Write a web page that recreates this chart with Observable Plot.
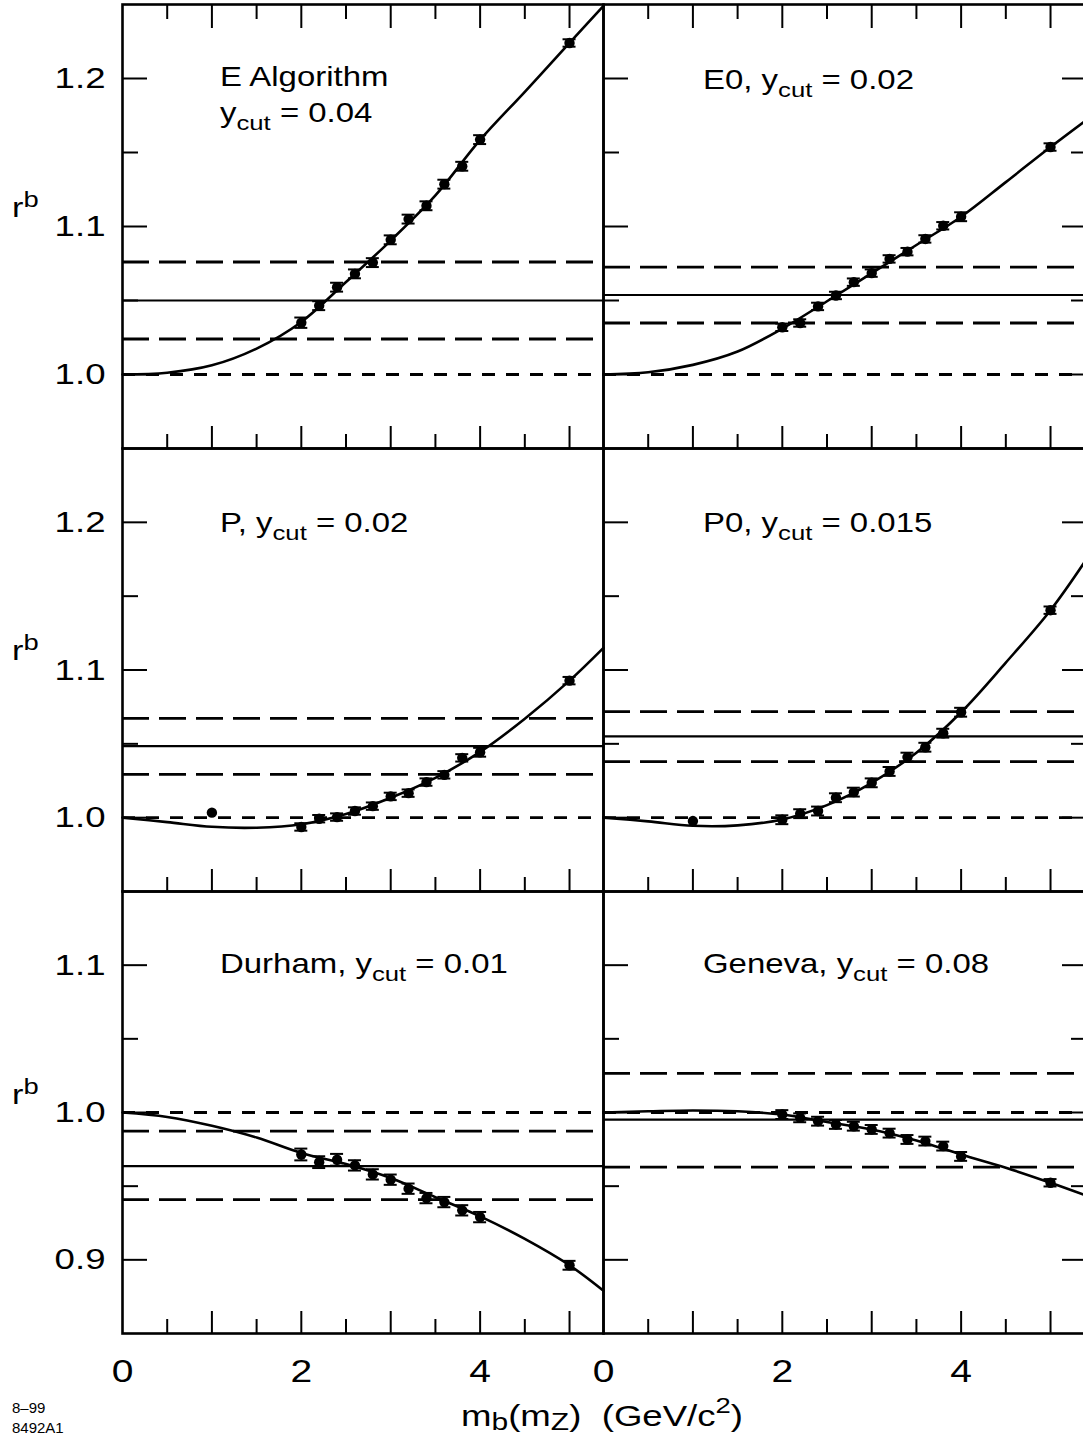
<!DOCTYPE html>
<html>
<head>
<meta charset="utf-8">
<script src="https://cdn.jsdelivr.net/npm/d3@7"></script>
<script src="https://cdn.jsdelivr.net/npm/@observablehq/plot@0.6"></script>
<style>
html, body { margin: 0; padding: 0; background: #fff; }
#chart { position: relative; width: 1083px; height: 1439px; overflow: hidden; background: #fff;
  font-family: "Liberation Sans", Arial, Helvetica, sans-serif; }
#chart svg { position: absolute; }
</style>
</head>
<body>
<div id="chart"></div>
<script>
// ---------------- data ----------------
const panelNames = ["E Algorithm", "E0", "P", "P0", "Durham", "Geneva"];
const yCuts = ["0.04", "0.02", "0.02", "0.015", "0.01", "0.08"];

const massX = [2.0, 2.2, 2.4, 2.6, 2.8, 3.0, 3.2, 3.4, 3.6, 3.8, 4.0, 5.0];
const massXWithLow = [1.0, 2.0, 2.2, 2.4, 2.6, 2.8, 3.0, 3.2, 3.4, 3.6, 3.8, 4.0, 5.0];

const eAlgR   = [1.035, 1.0465, 1.059, 1.068, 1.0756, 1.091, 1.105, 1.114, 1.1286, 1.1407, 1.1587, 1.224];
const eAlgErr = [0.0035, 0.003, 0.003, 0.003, 0.003, 0.003, 0.003, 0.003, 0.003, 0.003, 0.003, 0.0025];
const e0R     = [1.0319, 1.0348, 1.046, 1.0534, 1.0624, 1.0685, 1.0781, 1.083, 1.0916, 1.1005, 1.1066, 1.1537];
const e0Err   = [0.0025, 0.0025, 0.0025, 0.0025, 0.0025, 0.0025, 0.0025, 0.0025, 0.0025, 0.0025, 0.003, 0.0025];
const pR      = [1.0034, 0.9937, 0.9993, 1.0004, 1.0045, 1.0078, 1.0144, 1.0166, 1.0241, 1.029, 1.0405, 1.0443, 1.0928];
const pErr    = [0, 0.0025, 0.0025, 0.0025, 0.0025, 0.0025, 0.0025, 0.0025, 0.0025, 0.0025, 0.0025, 0.003, 0.0025];
const p0R     = [0.9977, 0.9986, 1.0027, 1.0045, 1.0135, 1.0173, 1.0236, 1.0313, 1.041, 1.0477, 1.0572, 1.0714, 1.1405];
const p0Err   = [0, 0.003, 0.003, 0.003, 0.003, 0.003, 0.003, 0.003, 0.003, 0.003, 0.003, 0.003, 0.0025];
const durhamR   = [0.9715, 0.9663, 0.9679, 0.9641, 0.958, 0.9544, 0.9483, 0.9419, 0.9392, 0.9336, 0.929, 0.8963];
const durhamErr = [0.004, 0.004, 0.004, 0.0035, 0.0035, 0.0035, 0.0035, 0.0035, 0.0035, 0.0035, 0.0035, 0.003];
const genevaR   = [0.9986, 0.9964, 0.9941, 0.9919, 0.9907, 0.9885, 0.986, 0.9817, 0.9806, 0.9772, 0.9702, 0.9523];
const genevaErr = [0.003, 0.003, 0.003, 0.003, 0.003, 0.003, 0.003, 0.003, 0.003, 0.003, 0.003, 0.0025];

// fitted curves (read at these masses)
const curveX      = [0, 0.5, 1.0, 1.5, 2.0, 2.5, 3.0, 3.5, 4.0, 4.5, 5.0, 5.38];
const eAlgCurve   = [1.0, 1.0012, 1.0062, 1.0175, 1.0355, 1.0625, 1.0905, 1.121, 1.1585, 1.191, 1.224, 1.249];
const e0Curve     = [1.0, 1.0015, 1.0065, 1.0155, 1.031, 1.0495, 1.0685, 1.0875, 1.1066, 1.130, 1.1537, 1.171];
const pCurve      = [1.0, 0.997, 0.9938, 0.9932, 0.9955, 1.0025, 1.0135, 1.027, 1.0445, 1.067, 1.0928, 1.115];
const p0Curve     = [1.0, 0.9975, 0.9945, 0.9948, 0.9988, 1.0085, 1.0236, 1.044, 1.0714, 1.105, 1.1405, 1.173];
const durhamCurve = [1.0, 0.997, 0.991, 0.983, 0.9725, 0.965, 0.9555, 0.9425, 0.9295, 0.9142, 0.8963, 0.879];
const genevaCurve = [1.0, 1.0008, 1.0014, 1.0008, 0.9986, 0.9935, 0.9885, 0.981, 0.9715, 0.9625, 0.9523, 0.944];

// horizontal lines: [central value, upper band, lower band]
const eAlgLines   = [1.050, 1.076, 1.024];
const e0Lines     = [1.0537, 1.0725, 1.0348];
const pLines      = [1.0484, 1.0673, 1.0293];
const p0Lines     = [1.0551, 1.0718, 1.038];
const durhamLines = [0.9636, 0.9873, 0.9408];
const genevaLines = [0.9951, 1.0266, 0.9629];
const unityLine   = [1.0];

// ticks and tick labels
const xDomain = [0, 5.38];
const xMajorTicks = [1, 2, 3, 4, 5];
const xMinorTicks = [0.5, 1.5, 2.5, 3.5, 4.5];
const xTickLabels = [0, 2, 4];
const rowDomains = [[0.95, 1.25], [0.95, 1.25], [0.85, 1.15]];
const rowMajorTicks = [[1.0, 1.1, 1.2], [1.0, 1.1, 1.2], [0.9, 1.0, 1.1]];
const rowMinorTicks = [[1.05, 1.15], [1.05, 1.15], [0.95, 1.05]];
const rowTickLabels = [[1.0, 1.1, 1.2], [1.0, 1.1, 1.2], [0.9, 1.0, 1.1]];

// ---------------- layout ----------------
const FONT = '"Liberation Sans", Arial, Helvetica, sans-serif';
const STRETCH = 1.22;
const FRAME_W = 481;
const rowTop = [4, 448, 891];
const rowH = [444, 443, 442];
const colLeft = [122, 603];

const panels = [
  {row: 0, col: 0, x: massX, r: eAlgR, err: eAlgErr, curve: eAlgCurve, lines: eAlgLines},
  {row: 0, col: 1, x: massX, r: e0R, err: e0Err, curve: e0Curve, lines: e0Lines},
  {row: 1, col: 0, x: massXWithLow, r: pR, err: pErr, curve: pCurve, lines: pLines},
  {row: 1, col: 1, x: massXWithLow, r: p0R, err: p0Err, curve: p0Curve, lines: p0Lines},
  {row: 2, col: 0, x: massX, r: durhamR, err: durhamErr, curve: durhamCurve, lines: durhamLines},
  {row: 2, col: 1, x: massX, r: genevaR, err: genevaErr, curve: genevaCurve, lines: genevaLines},
];

const chart = document.getElementById("chart");
const hasAxisMarks = typeof Plot.axisY === "function";

function stretchTexts(svg, k) {
  svg.querySelectorAll("text").forEach(t => {
    const x = t.getAttribute("x");
    if (x != null && x !== "") t.setAttribute("x", (+x) / k);
    const tr = t.getAttribute("transform") || "";
    t.setAttribute("transform", (tr + ` scale(${k},1)`).trim());
  });
}

function drawPanel(p) {
  const isLeft = p.col === 0, isBottom = p.row === 2, isTop = p.row === 0, isRight = p.col === 1;
  const ml = isLeft ? 122 : 4, mr = 4, mt = 4, mb = isBottom ? 62 : 4;
  const H = rowH[p.row];
  const pxPerUnit = FRAME_W / (xDomain[1] - xDomain[0]);
  const capHalf = 6.5 / pxPerUnit;
  const pts = p.x.map((x, i) => ({x, r: p.r[i], e: p.err[i]}));
  const bars = pts.filter(d => d.e > 0);
  const crv = curveX.map((x, i) => ({x, r: p.curve[i]}));

  const marks = [
    Plot.ruleY(unityLine, {stroke: "black", strokeWidth: 2.8, strokeDasharray: "13,11"}),
    Plot.ruleY([p.lines[1], p.lines[2]], {stroke: "black", strokeWidth: 2.8, strokeDasharray: "27,10"}),
    Plot.ruleY([p.lines[0]], {stroke: "black", strokeWidth: 2.2}),
    Plot.line(crv, {x: "x", y: "r", curve: "catmull-rom", stroke: "black", strokeWidth: 2.6}),
    Plot.ruleX(bars, {x: "x", y1: d => d.r - d.e, y2: d => d.r + d.e, stroke: "black", strokeWidth: 2}),
    Plot.ruleY(bars, {y: d => d.r + d.e, x1: d => d.x - capHalf, x2: d => d.x + capHalf, stroke: "black", strokeWidth: 2}),
    Plot.ruleY(bars, {y: d => d.r - d.e, x1: d => d.x - capHalf, x2: d => d.x + capHalf, stroke: "black", strokeWidth: 2}),
    Plot.dot(pts, {x: "x", y: "r", r: 5.2, fill: "black"}),
    // inward ticks, left side
    Plot.tickY(rowMajorTicks[p.row], {y: d => d, insetRight: FRAME_W - 25, stroke: "black", strokeWidth: 2}),
    Plot.tickY(rowMinorTicks[p.row], {y: d => d, insetRight: FRAME_W - 16, stroke: "black", strokeWidth: 2}),
    // bottom ticks
    Plot.tickX(xMajorTicks, {x: d => d, insetTop: H - 22, stroke: "black", strokeWidth: 2}),
    Plot.tickX(xMinorTicks, {x: d => d, insetTop: H - 14, stroke: "black", strokeWidth: 2}),
    Plot.frame({stroke: "black", strokeWidth: 2.6}),
  ];
  if (isTop) {
    marks.push(Plot.tickX(xMajorTicks, {x: d => d, insetBottom: H - 24, stroke: "black", strokeWidth: 2}));
    marks.push(Plot.tickX(xMinorTicks, {x: d => d, insetBottom: H - 15, stroke: "black", strokeWidth: 2}));
  }
  if (isRight) {
    marks.push(Plot.tickY(rowMajorTicks[p.row], {y: d => d, insetLeft: FRAME_W - 22, stroke: "black", strokeWidth: 2}));
    marks.push(Plot.tickY(rowMinorTicks[p.row], {y: d => d, insetLeft: FRAME_W - 13, stroke: "black", strokeWidth: 2}));
  }
  if (isLeft) {
    if (hasAxisMarks) {
      marks.push(Plot.axisY(rowTickLabels[p.row], {anchor: "left", tickSize: 0, tickPadding: 17,
        tickFormat: d3.format(".1f"), fontSize: 30, label: null}));
    } else {
      marks.push(Plot.text(rowTickLabels[p.row], {y: d => d, text: d3.format(".1f"), frameAnchor: "left",
        dx: -17, textAnchor: "end", fontSize: 30}));
    }
  }
  if (isBottom) {
    if (hasAxisMarks) {
      marks.push(Plot.axisX(xTickLabels, {anchor: "bottom", tickSize: 0, tickPadding: 26,
        tickFormat: d3.format("d"), fontSize: 32, label: null}));
    } else {
      marks.push(Plot.text(xTickLabels, {x: d => d, text: d3.format("d"), frameAnchor: "bottom",
        dy: 26, lineAnchor: "top", fontSize: 32}));
    }
  }

  const svg = Plot.plot({
    width: ml + FRAME_W + mr,
    height: mt + H + mb,
    marginLeft: ml, marginRight: mr, marginTop: mt, marginBottom: mb,
    x: {domain: xDomain, axis: null},
    y: {domain: rowDomains[p.row], axis: null},
    style: {background: "transparent", overflow: "visible", maxWidth: "none", fontFamily: FONT, color: "black"},
    marks
  });
  svg.style.position = "absolute";
  svg.style.left = (colLeft[p.col] - ml) + "px";
  svg.style.top = (rowTop[p.row] - mt) + "px";
  stretchTexts(svg, STRETCH);
  chart.appendChild(svg);
}

panels.forEach(drawPanel);

// ---------------- text annotations overlay ----------------
const ov = d3.create("svg")
  .attr("width", 1083).attr("height", 1439)
  .style("position", "absolute").style("left", "0px").style("top", "0px")
  .style("font-family", FONT).style("pointer-events", "none");

function addText(x, y, parts, fs, k, anchor = "start") {
  const t = ov.append("text")
    .attr("xml:space", "preserve")
    .style("white-space", "pre")
    .attr("transform", `translate(${x},${y}) scale(${k},1)`)
    .attr("font-size", fs).attr("fill", "black").attr("text-anchor", anchor);
  let shift = 0;
  parts.forEach(([s, kind]) => {
    const span = t.append("tspan").text(s);
    let target = 0, size = fs;
    if (kind === "sub") { target = 0.3 * fs; size = 0.78 * fs; }
    if (kind === "sub2") { target = 0.13 * fs; size = 0.82 * fs; }
    if (kind === "sup") { target = -0.45 * fs; size = 0.75 * fs; }
    if (kind === "sup2") { target = -0.36 * fs; size = 0.8 * fs; }
    span.attr("font-size", size).attr("dy", target - shift);
    shift = target;
  });
}

const titleFs = 27;
const titlePos = [[220, 86], [703, 89], [220, 532], [703, 532], [220, 973], [703, 973]];
// E Algorithm: two lines
addText(titlePos[0][0], titlePos[0][1], [[panelNames[0]]], titleFs, STRETCH);
addText(220, 122, [["y"], ["cut", "sub"], [" = " + yCuts[0]]], titleFs, STRETCH);
for (let i = 1; i < 6; i++) {
  addText(titlePos[i][0], titlePos[i][1], [[panelNames[i] + ", y"], ["cut", "sub"], [" = " + yCuts[i]]], titleFs, STRETCH);
}

// y-axis titles r^b
[217, 660, 1104].forEach(y => addText(12, y, [["r"], ["b", "sup2"]], 28, STRETCH));

// x-axis title
addText(602, 1426, [["m"], ["b", "sub2"], ["(m"], ["Z", "sub2"], [")  (GeV/c"], ["2", "sup"], [")"]], 30, STRETCH, "middle");

// figure codes
addText(12, 1413, [["8–99"]], 15, 1.0);
addText(12, 1433, [["8492A1"]], 15, 1.0);

chart.appendChild(ov.node());
</script>
</body>
</html>
